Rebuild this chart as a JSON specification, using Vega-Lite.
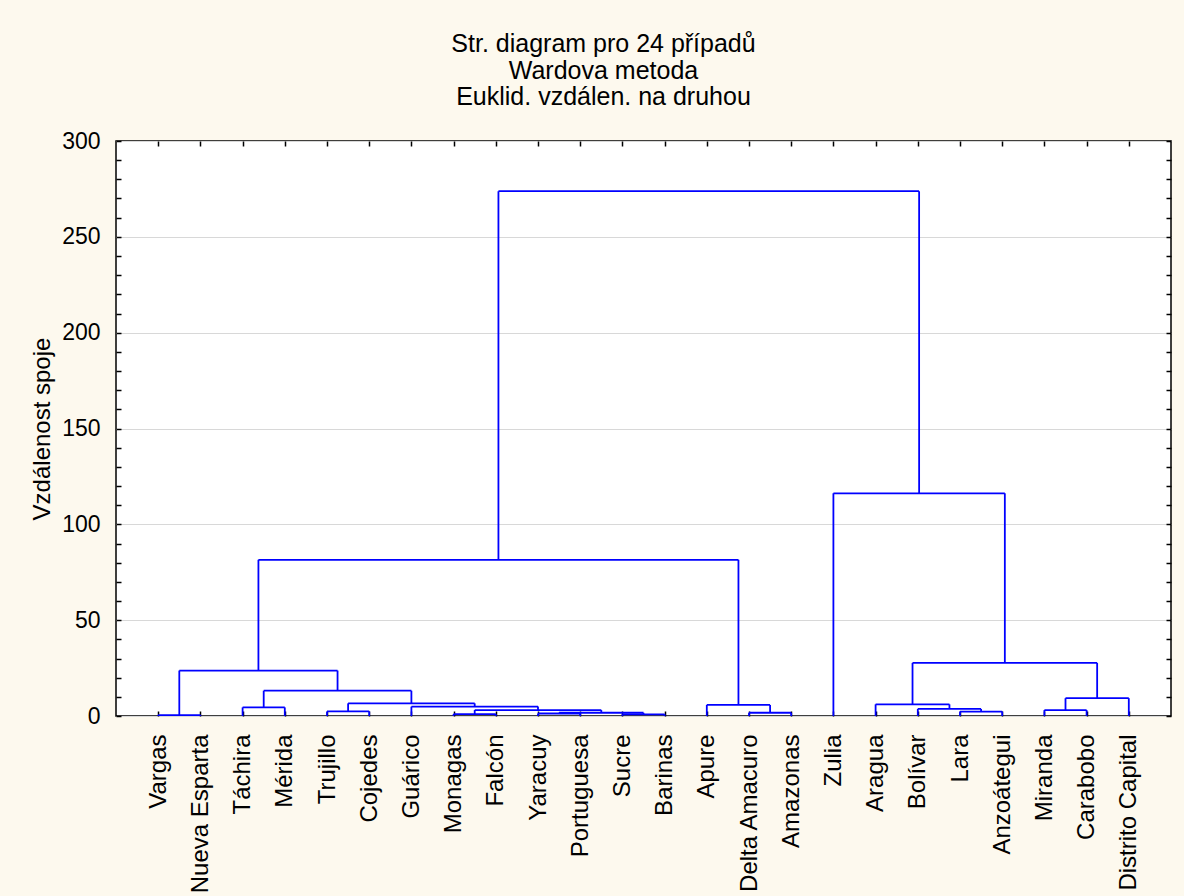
{
  "$schema": "https://vega.github.io/schema/vega-lite/v6.json",
  "autosize": {"type": "none"},
  "padding": {"left": 116, "top": 141, "right": 13, "bottom": 180},
  "width": 1055,
  "height": 575,
  "background": "#FDF9EE",
  "config": {
    "font": "Liberation Sans",
    "view": {"stroke": "#000000", "strokeWidth": 1.5, "fill": "#FFFFFF"},
    "axis": {"labelColor": "#000000", "titleColor": "#000000", "tickColor": "#000000", "domain": false, "labelFont": "Liberation Sans", "titleFont": "Liberation Sans", "labelOverlap": false}
  },
  "title": {
    "text": ["Str. diagram pro 24 případů", "Wardova metoda", "Euklid. vzdálen. na druhou"],
    "fontSize": 25,
    "fontWeight": "normal",
    "color": "#000000",
    "lineHeight": 26.5,
    "anchor": "middle",
    "dx": -40,
    "offset": 20
  },
  "datasets": {
    "nodes": [
      {"l": 1, "r": 2, "h": 0.5, "hl": 0, "hr": 0},
      {"l": 3, "r": 4, "h": 4.5, "hl": 0, "hr": 0},
      {"l": 5, "r": 6, "h": 2.4, "hl": 0, "hr": 0},
      {"l": 8, "r": 9, "h": 1.0, "hl": 0, "hr": 0},
      {"l": 10, "r": 11, "h": 1.3, "hl": 0, "hr": 0},
      {"l": 12, "r": 13, "h": 0.9, "hl": 0, "hr": 0},
      {"l": 10.5, "r": 12.5, "h": 1.7, "hl": 1.3, "hr": 0.9},
      {"l": 8.5, "r": 11.5, "h": 3.1, "hl": 1.0, "hr": 1.7},
      {"l": 7, "r": 10, "h": 4.9, "hl": 0, "hr": 3.1},
      {"l": 5.5, "r": 8.5, "h": 6.6, "hl": 2.4, "hr": 4.9},
      {"l": 3.5, "r": 7, "h": 13.2, "hl": 4.5, "hr": 6.6},
      {"l": 1.5, "r": 5.25, "h": 23.7, "hl": 0.5, "hr": 13.2},
      {"l": 15, "r": 16, "h": 1.7, "hl": 0, "hr": 0},
      {"l": 14, "r": 15.5, "h": 5.8, "hl": 0, "hr": 1.7},
      {"l": 3.375, "r": 14.75, "h": 81.5, "hl": 23.7, "hr": 5.8},
      {"l": 20, "r": 21, "h": 2.3, "hl": 0, "hr": 0},
      {"l": 19, "r": 20.5, "h": 3.7, "hl": 0, "hr": 2.3},
      {"l": 18, "r": 19.75, "h": 6.1, "hl": 0, "hr": 3.7},
      {"l": 22, "r": 23, "h": 3.1, "hl": 0, "hr": 0},
      {"l": 22.5, "r": 24, "h": 9.3, "hl": 3.1, "hr": 0},
      {"l": 18.875, "r": 23.25, "h": 27.7, "hl": 6.1, "hr": 9.3},
      {"l": 17, "r": 21.0625, "h": 116.2, "hl": 0, "hr": 27.7},
      {"l": 9.0625, "r": 19.03125, "h": 273.8, "hl": 81.5, "hr": 116.2}
    ],
    "leaves": [
      {"name": "Vargas"}, {"name": "Nueva Esparta"}, {"name": "Táchira"}, {"name": "Mérida"},
      {"name": "Trujillo"}, {"name": "Cojedes"}, {"name": "Guárico"}, {"name": "Monagas"},
      {"name": "Falcón"}, {"name": "Yaracuy"}, {"name": "Portuguesa"}, {"name": "Sucre"},
      {"name": "Barinas"}, {"name": "Apure"}, {"name": "Delta Amacuro"}, {"name": "Amazonas"},
      {"name": "Zulia"}, {"name": "Aragua"}, {"name": "Bolívar"}, {"name": "Lara"},
      {"name": "Anzoátegui"}, {"name": "Miranda"}, {"name": "Carabobo"}, {"name": "Distrito Capital"}
    ]
  },
  "layer": [
    {
      "data": {"name": "nodes"},
      "layer": [
        {
          "mark": {"type": "rule", "color": "#0000FF", "strokeWidth": 1.8},
          "encoding": {
            "x": {"field": "l", "type": "quantitative", "scale": {"domain": [0, 25], "nice": false, "zero": false},
              "axis": {"orient": "top", "values": [1,2,3,4,5,6,7,8,9,10,11,12,13,14,15,16,17,18,19,20,21,22,23,24], "labels": false, "grid": false, "title": null, "tickSize": -5, "tickWidth": 1.5}},
            "x2": {"field": "r"},
            "y": {"field": "h", "type": "quantitative", "scale": {"domain": [0, 300], "nice": false},
              "axis": {"orient": "left", "title": "Vzdálenost spoje", "titleFontSize": 24, "titleFontWeight": "normal", "titlePadding": 7,
                "values": [0,10,20,30,40,50,60,70,80,90,100,110,120,130,140,150,160,170,180,190,200,210,220,230,240,250,260,270,280,290,300],
                "labelExpr": "datum.value % 50 === 0 ? datum.label : ''",
                "labelFontSize": 23, "labelPadding": 21, "tickSize": -5, "tickWidth": 1.5,
                "grid": true, "gridColor": "#D8D8D8", "gridWidth": 1,
                "gridOpacity": {"condition": {"test": "datum.value % 50 === 0", "value": 1}, "value": 0}}}
          }
        },
        {
          "mark": {"type": "rule", "color": "#0000FF", "strokeWidth": 1.8},
          "encoding": {
            "x": {"field": "l", "type": "quantitative", "scale": {"domain": [0, 25], "nice": false, "zero": false},
              "axis": {"orient": "top", "values": [1,2,3,4,5,6,7,8,9,10,11,12,13,14,15,16,17,18,19,20,21,22,23,24], "labels": false, "grid": false, "title": null, "tickSize": -5, "tickWidth": 1.5}},
            "y": {"field": "hl", "type": "quantitative", "scale": {"domain": [0, 300], "nice": false},
              "axis": {"orient": "left", "title": "Vzdálenost spoje", "titleFontSize": 24, "titleFontWeight": "normal", "titlePadding": 7,
                "values": [0,10,20,30,40,50,60,70,80,90,100,110,120,130,140,150,160,170,180,190,200,210,220,230,240,250,260,270,280,290,300],
                "labelExpr": "datum.value % 50 === 0 ? datum.label : ''",
                "labelFontSize": 23, "labelPadding": 21, "tickSize": -5, "tickWidth": 1.5,
                "grid": true, "gridColor": "#D8D8D8", "gridWidth": 1,
                "gridOpacity": {"condition": {"test": "datum.value % 50 === 0", "value": 1}, "value": 0}}},
            "y2": {"field": "h"}
          }
        },
        {
          "mark": {"type": "rule", "color": "#0000FF", "strokeWidth": 1.8},
          "encoding": {
            "x": {"field": "r", "type": "quantitative", "scale": {"domain": [0, 25], "nice": false, "zero": false},
              "axis": {"orient": "top", "values": [1,2,3,4,5,6,7,8,9,10,11,12,13,14,15,16,17,18,19,20,21,22,23,24], "labels": false, "grid": false, "title": null, "tickSize": -5, "tickWidth": 1.5}},
            "y": {"field": "hr", "type": "quantitative", "scale": {"domain": [0, 300], "nice": false},
              "axis": {"orient": "left", "title": "Vzdálenost spoje", "titleFontSize": 24, "titleFontWeight": "normal", "titlePadding": 7,
                "values": [0,10,20,30,40,50,60,70,80,90,100,110,120,130,140,150,160,170,180,190,200,210,220,230,240,250,260,270,280,290,300],
                "labelExpr": "datum.value % 50 === 0 ? datum.label : ''",
                "labelFontSize": 23, "labelPadding": 21, "tickSize": -5, "tickWidth": 1.5,
                "grid": true, "gridColor": "#D8D8D8", "gridWidth": 1,
                "gridOpacity": {"condition": {"test": "datum.value % 50 === 0", "value": 1}, "value": 0}}},
            "y2": {"field": "h"}
          }
        }
      ]
    },
    {
      "data": {"name": "leaves"},
      "mark": {"type": "point", "opacity": 0},
      "encoding": {
        "x": {"field": "name", "type": "nominal", "sort": null, "scale": {"type": "point", "padding": 1},
          "axis": {"orient": "bottom", "title": null, "labelAngle": -90, "labelFontSize": 24, "labelPadding": 23, "tickSize": -5, "tickWidth": 1.5, "grid": false}},
        "y": {"datum": 0, "type": "quantitative",
          "axis": {"orient": "right", "title": null, "labels": false, "grid": false, "tickSize": -5, "tickWidth": 1.5,
            "values": [0,10,20,30,40,50,60,70,80,90,100,110,120,130,140,150,160,170,180,190,200,210,220,230,240,250,260,270,280,290,300]}}
      }
    }
  ],
  "resolve": {"scale": {"x": "independent"}, "axis": {"x": "independent", "y": "independent"}}
}
